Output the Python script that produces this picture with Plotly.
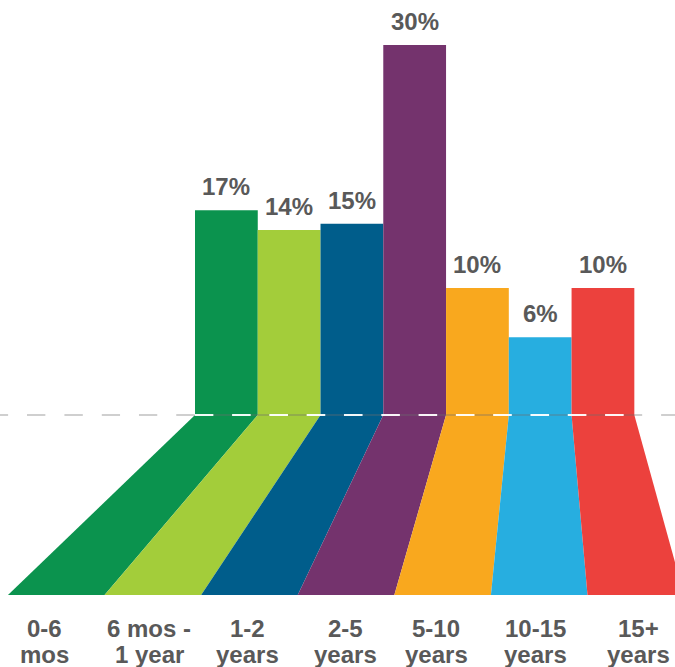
import plotly.graph_objects as go

# ---- data ----
categories = ["0-6<br>mos", "6 mos -<br>1 year", "1-2<br>years", "2-5<br>years",
              "5-10<br>years", "10-15<br>years", "15+<br>years"]
value_labels = ["17%", "14%", "15%", "30%", "10%", "6%", "10%"]
bar_heights = [16.6, 15.0, 15.5, 30.0, 10.3, 6.3, 10.3]
colors = ["#0B934E", "#A3CD3A", "#005D8B", "#74336D", "#F9A81E", "#27AEE0", "#EC413D"]

# ---- layout constants (axis units: bar width = 1, y in %) ----
X_RANGE = [-3.607, 7.148]
Y_RANGE = [-20.43, 33.65]
FOOT_Y = -14.6            # bottom of the trapezoids
FOOT_X0 = -3.480          # left edge of the first bottom segment
FOOT_W = 1.539            # width of each bottom segment
LABEL_X = [-2.906, -1.233, 0.344, 1.890, 3.340, 4.933, 6.559]
LINE1_Y = -17.33
LINE2_Y = -19.43
GRAY = "#595959"
FONT = "Liberation Sans, Arial, sans-serif"

fig = go.Figure()

# trapezoids below the baseline
for i, c in enumerate(colors):
    xs = [i - 0.5, i + 0.5, FOOT_X0 + (i + 1) * FOOT_W, FOOT_X0 + i * FOOT_W, i - 0.5]
    ys = [0, 0, FOOT_Y, FOOT_Y, 0]
    fig.add_trace(go.Scatter(x=xs, y=ys, fill="toself", fillcolor=c, mode="lines",
                             line=dict(width=0, color=c), hoverinfo="skip", showlegend=False))

# bars
fig.add_trace(go.Bar(x=list(range(len(bar_heights))), y=bar_heights, width=1,
                     marker=dict(color=colors, line=dict(width=0)),
                     hoverinfo="skip", showlegend=False))

# dashed baseline (grey dashes + white dashes in the gaps)
fig.add_trace(go.Scatter(x=[-3.771, X_RANGE[1] + 0.5], y=[0, 0], mode="lines",
                         line=dict(color="rgba(110,110,110,0.33)", width=2, dash="18.6px,18.7px"),
                         hoverinfo="skip", showlegend=False))
fig.add_trace(go.Scatter(x=[-3.475, X_RANGE[1] + 0.5], y=[0, 0], mode="lines",
                         line=dict(color="rgba(255,255,255,0.95)", width=2, dash="18.6px,18.7px"),
                         hoverinfo="skip", showlegend=False))

# value labels above bars
for i, (h, t) in enumerate(zip(bar_heights, value_labels)):
    fig.add_annotation(x=i, y=h, text=t, showarrow=False, yanchor="bottom", yshift=8,
                       font=dict(family=FONT, size=24, color=GRAY, weight="bold"))

# category labels (two lines each)
for cat, lx in zip(categories, LABEL_X):
    l1, l2 = cat.split("<br>")
    fig.add_annotation(x=lx, y=LINE1_Y, text=l1, showarrow=False, yanchor="middle",
                       font=dict(family=FONT, size=24, color=GRAY, weight="bold"))
    fig.add_annotation(x=lx, y=LINE2_Y, text=l2, showarrow=False, yanchor="middle",
                       font=dict(family=FONT, size=24, color=GRAY, weight="bold"))

fig.update_layout(
    width=675, height=667,
    margin=dict(l=0, r=0, t=0, b=0),
    paper_bgcolor="white", plot_bgcolor="white",
    xaxis=dict(range=X_RANGE, visible=False, fixedrange=True),
    yaxis=dict(range=Y_RANGE, visible=False, fixedrange=True),
    showlegend=False,
)

fig.write_html("out.html",
               config={"displayModeBar": False},
               post_script="document.body.style.margin='0';document.body.style.overflow='hidden';")
